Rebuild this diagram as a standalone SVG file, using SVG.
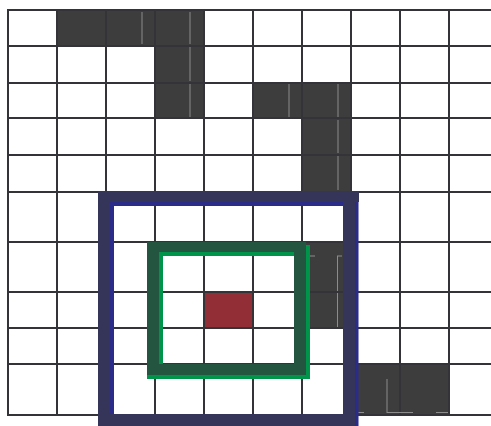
<svg xmlns="http://www.w3.org/2000/svg" width="491" height="426" viewBox="0 0 491 426">
<style>
.cell{fill:#3e3d3e}
.grid line{stroke:#343438;stroke-width:2}
.glint line{stroke:#8c8c8c;stroke-width:1}
.navy{fill:#35355a}
.blue{fill:#2b2b8a}
.dg{fill:#235540}
.bg{fill:#00934a}
.red{fill:#922e35}
</style>
<rect width="491" height="426" fill="#ffffff"/>
<g id="dark-cells">
<rect class="cell" x="57" y="10" width="147" height="36"/>
<rect class="cell" x="155" y="46" width="49" height="72"/>
<rect class="cell" x="253" y="83" width="98" height="35"/>
<rect class="cell" x="302" y="118" width="49" height="74"/>
<rect class="cell" x="302" y="242" width="49" height="86"/>
<rect class="cell" x="351" y="364" width="98" height="51"/>
</g>
<g id="target-cell">
<rect class="red" x="204" y="292" width="49" height="36"/>
</g>
<g id="grid" class="grid">
<line x1="8" y1="10" x2="8" y2="415"/>
<line x1="57" y1="10" x2="57" y2="415"/>
<line x1="106" y1="10" x2="106" y2="415"/>
<line x1="155" y1="10" x2="155" y2="415"/>
<line x1="204" y1="10" x2="204" y2="415"/>
<line x1="253" y1="10" x2="253" y2="415"/>
<line x1="302" y1="10" x2="302" y2="415"/>
<line x1="351" y1="10" x2="351" y2="415"/>
<line x1="400" y1="10" x2="400" y2="415"/>
<line x1="449" y1="10" x2="449" y2="415"/>
<line x1="7" y1="10" x2="491" y2="10"/>
<line x1="7" y1="46" x2="491" y2="46"/>
<line x1="7" y1="83" x2="491" y2="83"/>
<line x1="7" y1="118" x2="491" y2="118"/>
<line x1="7" y1="155" x2="491" y2="155"/>
<line x1="7" y1="192" x2="491" y2="192"/>
<line x1="7" y1="242" x2="491" y2="242"/>
<line x1="7" y1="292" x2="491" y2="292"/>
<line x1="7" y1="328" x2="491" y2="328"/>
<line x1="7" y1="364" x2="491" y2="364"/>
<line x1="7" y1="415" x2="491" y2="415"/>
</g>
<g id="cell-glints" class="glint">
<line x1="142" y1="12" x2="142" y2="44"/>
<line x1="190" y1="12" x2="190" y2="44"/>
<line x1="190" y1="47" x2="190" y2="81"/>
<line x1="190" y1="84" x2="190" y2="117"/>
<line x1="289" y1="84" x2="289" y2="117"/>
<line x1="338" y1="84" x2="338" y2="117"/>
<line x1="338" y1="120" x2="338" y2="153"/>
<line x1="338" y1="156" x2="338" y2="190"/>
<line x1="337.5" y1="256" x2="337.5" y2="291"/>
<line x1="337.5" y1="293" x2="337.5" y2="327"/>
<line x1="310" y1="256" x2="315" y2="256"/>
<line x1="337" y1="256" x2="342" y2="256"/>
<line x1="387" y1="379" x2="387" y2="413"/>
<line x1="358" y1="412.5" x2="364" y2="412.5"/>
<line x1="387" y1="412.5" x2="413" y2="412.5"/>
<line x1="436" y1="412.5" x2="448" y2="412.5"/>
</g>
<g id="outer-frame">
<rect class="blue" x="355" y="192" width="3.5" height="234"/>
<rect class="blue" x="110" y="202" width="237" height="4"/>
<rect class="blue" x="110" y="202" width="4" height="212"/>
<rect class="navy" x="98" y="191" width="261" height="11"/>
<rect class="navy" x="98" y="191" width="12" height="235"/>
<rect class="navy" x="343" y="191" width="12" height="235"/>
<rect class="navy" x="98" y="414" width="257" height="12"/>
</g>
<g id="inner-frame">
<rect class="bg" x="306" y="245" width="4" height="134"/>
<rect class="bg" x="147" y="375" width="163" height="4"/>
<rect class="bg" x="159" y="252" width="139" height="4"/>
<rect class="bg" x="159" y="252" width="4" height="112"/>
<rect class="dg" x="147" y="242" width="159" height="10"/>
<rect class="dg" x="147" y="242" width="12" height="133"/>
<rect class="dg" x="294" y="242" width="12" height="133"/>
<rect class="dg" x="147" y="364" width="159" height="11"/>
</g>
</svg>
